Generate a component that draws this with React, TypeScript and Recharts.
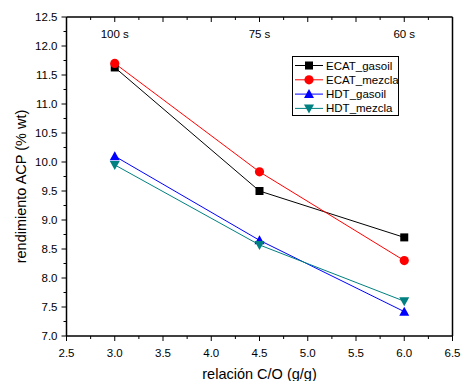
import { Line, LineChart, XAxis, YAxis } from "recharts";

// relación C/O (g/g) y tiempos de contacto
const relacionCO = [3.0, 4.5, 6.0];
const tiempos = ["100 s", "75 s", "60 s"];

// rendimiento ACP (% wt)
const ecatGasoil = [11.63, 9.5, 8.7];
const ecatMezcla = [11.7, 9.83, 8.3];
const hdtGasoil = [10.1, 8.65, 7.42];
const hdtMezcla = [9.95, 8.57, 7.6];

const xTicks = [2.5, 2.75, 3.0, 3.25, 3.5, 3.75, 4.0, 4.25, 4.5, 4.75, 5.0, 5.25, 5.5, 5.75, 6.0, 6.25, 6.5];
const yTicks = [
  7.0, 7.25, 7.5, 7.75, 8.0, 8.25, 8.5, 8.75, 9.0, 9.25, 9.5, 9.75, 10.0, 10.25, 10.5, 10.75, 11.0, 11.25, 11.5,
  11.75, 12.0, 12.25, 12.5,
];

const data = relacionCO.map((x, i) => ({
  x,
  ecatGasoil: ecatGasoil[i],
  ecatMezcla: ecatMezcla[i],
  hdtGasoil: hdtGasoil[i],
  hdtMezcla: hdtMezcla[i],
}));

const FONT = '"Liberation Sans", Arial, sans-serif';
const AXIS = { stroke: "#000", strokeWidth: 1.5 };

const isMajor = (v: number) => Math.abs(v * 2 - Math.round(v * 2)) < 1e-6;

type Shape = "square" | "circle" | "up" | "down";

function Marker({ cx, cy, shape, color }: { cx: number; cy: number; shape: Shape; color: string }) {
  if (shape === "square") return <rect x={cx - 4} y={cy - 4} width={8} height={8} fill={color} />;
  if (shape === "circle") return <circle cx={cx} cy={cy} r={4.6} fill={color} />;
  if (shape === "up")
    return <polygon points={`${cx - 5},${cy + 4} ${cx + 5},${cy + 4} ${cx},${cy - 5}`} fill={color} />;
  return <polygon points={`${cx - 5},${cy - 4} ${cx + 5},${cy - 4} ${cx},${cy + 5}`} fill={color} />;
}

const series: { key: string; name: string; color: string; shape: Shape }[] = [
  { key: "ecatGasoil", name: "ECAT_gasoil", color: "#000000", shape: "square" },
  { key: "ecatMezcla", name: "ECAT_mezcla", color: "#ff0000", shape: "circle" },
  { key: "hdtGasoil", name: "HDT_gasoil", color: "#0000ff", shape: "up" },
  { key: "hdtMezcla", name: "HDT_mezcla", color: "#008080", shape: "down" },
];

function BottomTick(p: any) {
  const v = p.payload.value as number;
  const major = isMajor(v);
  return (
    <g>
      <line x1={p.x} x2={p.x} y1={p.y} y2={p.y + (major ? 5 : 3)} stroke="#000" />
      {major && (
        <text x={p.x} y={p.y + 21} textAnchor="middle" fontSize={11.5} fontFamily={FONT} fill="#000">
          {v.toFixed(1)}
        </text>
      )}
    </g>
  );
}

function TopTick(p: any) {
  const v = p.payload.value as number;
  const major = isMajor(v);
  const idx = relacionCO.findIndex((c) => Math.abs(c - v) < 1e-6);
  return (
    <g>
      <line x1={p.x} x2={p.x} y1={p.y} y2={p.y + (major ? 5 : 3)} stroke="#000" />
      {idx >= 0 && (
        <text x={p.x} y={p.y + 21} textAnchor="middle" fontSize={11.5} fontFamily={FONT} fill="#000">
          {tiempos[idx]}
        </text>
      )}
    </g>
  );
}

function LeftTick(p: any) {
  const v = p.payload.value as number;
  const major = isMajor(v);
  return (
    <g>
      <line x1={p.x - (major ? 5 : 3)} x2={p.x} y1={p.y} y2={p.y} stroke="#000" />
      {major && (
        <text x={p.x - 9} y={p.y + 4} textAnchor="end" fontSize={11.5} fontFamily={FONT} fill="#000">
          {v.toFixed(1)}
        </text>
      )}
    </g>
  );
}

function RightTick(p: any) {
  const v = p.payload.value as number;
  const major = isMajor(v);
  return <line x1={p.x} x2={p.x + (major ? 4 : 2)} y1={p.y} y2={p.y} stroke="#000" />;
}

function LegendBox() {
  return (
    <svg width={108} height={61} style={{ display: "block" }}>
      <rect x={0.5} y={0.5} width={106} height={59} fill="#fff" stroke="#000" />
      {series.map((s, i) => {
        const cy = 9.5 + i * 14.3;
        return (
          <g key={s.key}>
            <line x1={3} x2={31} y1={cy} y2={cy} stroke={s.color} />
            <Marker cx={17} cy={cy} shape={s.shape} color={s.color} />
            <text x={34} y={cy + 4} fontSize={11.5} fontFamily={FONT} fill="#000">
              {s.name}
            </text>
          </g>
        );
      })}
    </svg>
  );
}

export default function App() {
  return (
    <div style={{ position: "absolute", left: 0, top: 0, width: 462, height: 381, background: "#fff" }}>
      <LineChart width={462} height={381} data={data} margin={{ top: 16, right: 8.5, bottom: 0, left: 0.5 }}>
        <XAxis
          xAxisId="bottom"
          dataKey="x"
          type="number"
          domain={[2.5, 6.5]}
          ticks={xTicks}
          interval={0}
          height={45}
          tickSize={0}
          tickMargin={0}
          tickLine={false}
          axisLine={AXIS}
          tick={BottomTick}
          label={{
            value: "relación C/O (g/g)",
            position: "insideBottom",
            offset: 2,
            style: { fontSize: 14.5, fontFamily: FONT, fill: "#000" },
          }}
        />
        <XAxis
          xAxisId="top"
          orientation="top"
          dataKey="x"
          type="number"
          domain={[2.5, 6.5]}
          ticks={xTicks}
          interval={0}
          height={1}
          tickSize={0}
          tickMargin={0}
          tickLine={false}
          axisLine={AXIS}
          tick={TopTick}
        />
        <YAxis
          yAxisId="left"
          type="number"
          domain={[7, 12.5]}
          ticks={yTicks}
          interval={0}
          width={66}
          tickSize={0}
          tickMargin={0}
          tickLine={false}
          axisLine={AXIS}
          tick={LeftTick}
          label={{
            content: ({ viewBox }: any) => (
              <text
                x={21}
                y={viewBox.y + viewBox.height / 2 + 10}
                transform={`rotate(-90, 21, ${viewBox.y + viewBox.height / 2 + 10})`}
                textAnchor="middle"
                dominantBaseline="central"
                fontSize={14.5}
                fontFamily={FONT}
                fill="#000"
              >
                rendimiento ACP (% wt)
              </text>
            ),
          }}
        />
        <YAxis
          yAxisId="right"
          orientation="right"
          type="number"
          domain={[7, 12.5]}
          ticks={yTicks}
          interval={0}
          width={1}
          tickSize={0}
          tickMargin={0}
          tickLine={false}
          axisLine={AXIS}
          tick={RightTick}
        />
        {series.map((s) => (
          <Line
            key={s.key}
            xAxisId="bottom"
            yAxisId="left"
            dataKey={s.key}
            name={s.name}
            stroke={s.color}
            strokeWidth={1}
            isAnimationActive={false}
            dot={(p: any) => <Marker key={`${s.key}-${p.index}`} cx={p.cx} cy={p.cy} shape={s.shape} color={s.color} />}
            activeDot={false}
          />
        ))}
      </LineChart>
      <div style={{ position: "absolute", left: 292, top: 56 }}>
        <LegendBox />
      </div>
    </div>
  );
}
